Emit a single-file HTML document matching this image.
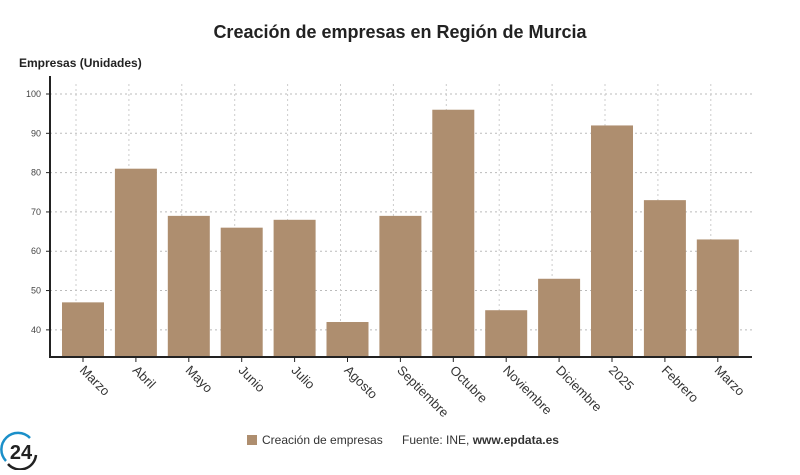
<!DOCTYPE html>
<html><head><meta charset="utf-8"><style>
body{margin:0;background:#fff;width:800px;height:470px;overflow:hidden;font-family:"Liberation Sans",sans-serif}
</style></head><body>
<svg width="800" height="470">
<text x="400" y="38" text-anchor="middle" font-size="18" font-weight="bold" fill="#222">Creación de empresas en Región de Murcia</text>
<text x="19" y="67" font-size="12" fill="#222" font-weight="bold">Empresas (Unidades)</text>
<g id="grid"></g><g id="bars"></g><g id="axes"></g>
<g>
<rect x="247" y="435" width="10" height="10" fill="#ae8e6f"/>
<text x="262" y="444" font-size="12" fill="#333">Creación de empresas</text>
<text x="402" y="444" font-size="12" fill="#333">Fuente: INE, <tspan font-weight="bold">www.epdata.es</tspan></text>
</g>
<g>
<path d="M 30 438 A 16 16 0 0 0 6 461" fill="none" stroke="#1a8fc9" stroke-width="2.5"/>
<path d="M 8 464 A 16 16 0 0 0 36 455" fill="none" stroke="#222" stroke-width="2.5"/>
<text x="21" y="459" text-anchor="middle" font-size="20" font-weight="bold" fill="#222">24</text>
</g>
</svg>
<script>
const categories=["Marzo","Abril","Mayo","Junio","Julio","Agosto","Septiembre","Octubre","Noviembre","Diciembre","2025","Febrero","Marzo"];
const values=[47,81,69,66,68,42,69,96,45,53,92,73,63];
const yTicks=[40,50,60,70,80,90,100];
const ns="http://www.w3.org/2000/svg";
const yMin=33.1,yMax=100,y0=357,y1=94;
const y=v=>y0-(v-yMin)/(yMax-yMin)*(y0-y1);
const x=i=>83+i*52.9;
function mk(t,a,p){const e=document.createElementNS(ns,t);for(const k in a)e.setAttribute(k,a[k]);p.appendChild(e);return e;}
const grid=document.getElementById('grid'),bars=document.getElementById('bars'),axes=document.getElementById('axes');
yTicks.forEach(v=>{
 const l=mk('line',{x1:50,x2:752,y1:y(v),y2:y(v),stroke:'#bbb','stroke-dasharray':'2,3'},grid);
 
 
 const t=mk('text',{x:41,y:y(v)+3,'text-anchor':'end','font-size':9,fill:'#444'},axes);t.textContent=v;
 
 
 mk('line',{x1:46,x2:50,y1:y(v),y2:y(v),stroke:'#222'},axes);
});
categories.forEach((c,i)=>{
 const g=mk('line',{x1:x(i)-7,x2:x(i)-7,y1:y1-10,y2:y0,stroke:'#ccc','stroke-dasharray':'2,3'},grid);
 
 
 const b=mk('rect',{x:x(i)-21,y:y(values[i]),width:42,height:y0-y(values[i]),fill:'#ae8e6f'},bars);
 
 
 mk('line',{x1:x(i),x2:x(i),y1:y0,y2:y0+5,stroke:'#222'},axes);
 const t=mk('text',{x:x(i)-4,y:y0+14,'font-size':13,fill:'#333',transform:`rotate(45 ${x(i)-4} ${y0+14})`},axes);
 t.textContent=c;
 
 
});
mk('line',{x1:50,x2:50,y1:76,y2:358,stroke:'#222','stroke-width':2},axes);
mk('line',{x1:49,x2:752,y1:357,y2:357,stroke:'#222','stroke-width':2},axes);
</script>
</body></html>
